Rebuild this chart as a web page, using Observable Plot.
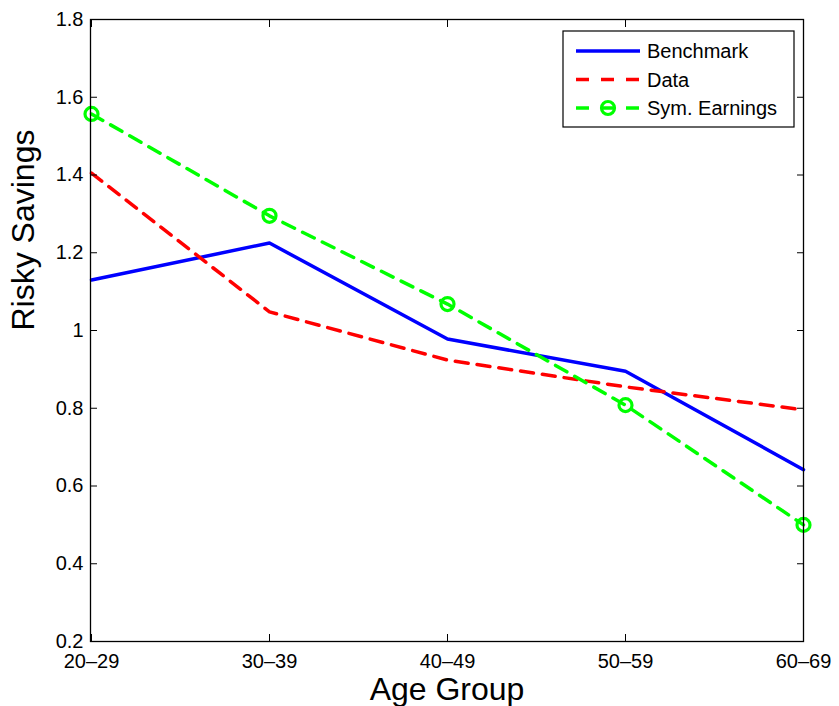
<!DOCTYPE html>
<html><head><meta charset="utf-8">
<script src="https://cdn.jsdelivr.net/npm/d3@7"></script>
<script src="https://cdn.jsdelivr.net/npm/@observablehq/plot@0.6"></script>
<style>body{margin:0;background:#fff;}</style>
</head><body><div id="chart"></div>
<script>
const ageGroups = ["20–29","30–39","40–49","50–59","60–69"];
const benchmark = [1.130,1.225,0.978,0.895,0.642];
const dataSeries = [1.405,1.048,0.924,0.855,0.796];
const symEarnings = [1.557,1.295,1.068,0.808,0.500];
const yTicks = [0.2,0.4,0.6,0.8,1.0,1.2,1.4,1.6,1.8];
const seriesNames = ["Benchmark","Data","Sym. Earnings"];
const seriesColors = ["#0000ff","#ff0000","#00ff00"];
const xLabel = "Age Group";
const yLabel = "Risky Savings";

const rows = (vals) => ageGroups.map((g,i)=>({age:g, value:vals[i]}));
const font = "'Liberation Sans', Arial, Helvetica, sans-serif";
const dash = "13,9";

const chart = Plot.plot({
  width: 839, height: 706,
  marginLeft: 90, marginRight: 36, marginTop: 19, marginBottom: 65,
  style: {fontFamily: font, fontSize: "20px", background: "white", color: "black"},
  x: {type: "point", domain: ageGroups, padding: 0},
  y: {domain: [0.2, 1.8]},
  marks: [
    Plot.line(rows(benchmark), {x:"age", y:"value", stroke: seriesColors[0], strokeWidth: 3.5}),
    Plot.line(rows(dataSeries), {x:"age", y:"value", stroke: seriesColors[1], strokeWidth: 3.5, strokeDasharray: dash}),
    Plot.line(rows(symEarnings), {x:"age", y:"value", stroke: seriesColors[2], strokeWidth: 3.5, strokeDasharray: dash}),
    Plot.dot(rows(symEarnings), {x:"age", y:"value", r: 6.5, stroke: seriesColors[2], strokeWidth: 3.2, fill: "none"}),
    Plot.frame({stroke: "black", strokeWidth: 1.3}),
    Plot.axisY(yTicks, {anchor: "left", tickSize: -7, tickPadding: 14, fontSize: 20, label: null, tickFormat: d => String(+d.toFixed(1))}),
    Plot.axisY(yTicks, {anchor: "right", tickSize: -7, label: null, tickFormat: () => ""}),
    Plot.axisX(ageGroups, {anchor: "bottom", tickSize: -7, tickPadding: 19, fontSize: 20, label: null}),
    Plot.axisX(ageGroups, {anchor: "top", tickSize: -7, label: null, tickFormat: () => ""}),
    Plot.text([yLabel], {text: d => d, frameAnchor: "left", rotate: -90, dx: -67, fontSize: 32}),
    Plot.text([xLabel], {text: d => d, frameAnchor: "bottom", dy: 58, fontSize: 32})
  ]
});

// legend box (MATLAB style, inside the plot area, top-right)
const svg = d3.select(chart);
const lg = svg.append("g").attr("transform", "translate(563,31)");
lg.append("rect").attr("width", 231).attr("height", 96).attr("fill", "white").attr("stroke", "black").attr("stroke-width", 1.2);
seriesNames.forEach((name, i) => {
  const cy = 20 + i * 28.5;
  lg.append("line").attr("x1", 13).attr("x2", 77).attr("y1", cy).attr("y2", cy)
    .attr("stroke", seriesColors[i]).attr("stroke-width", 3.5)
    .attr("stroke-dasharray", i === 0 ? null : "13,12");
  if (i === 2) lg.append("circle").attr("cx", 45).attr("cy", cy).attr("r", 6.5)
    .attr("fill", "none").attr("stroke", seriesColors[i]).attr("stroke-width", 3.2);
  lg.append("text").attr("x", 84).attr("y", cy).attr("dy", "0.35em")
    .attr("text-anchor", "start")
    .attr("font-size", 20).attr("font-family", font).attr("fill", "black").text(name);
});

document.getElementById("chart").appendChild(chart);
</script>
</body></html>
